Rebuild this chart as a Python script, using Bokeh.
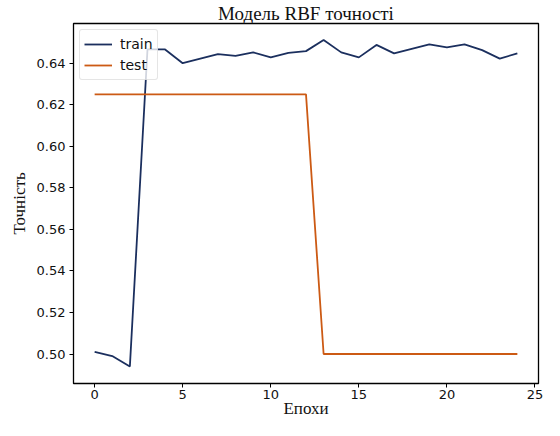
from bokeh.plotting import figure
from bokeh.models import FixedTicker, PrintfTickFormatter, Range1d, Legend, LegendItem
from bokeh.embed import file_html
from bokeh.resources import INLINE

epochs = list(range(25))
train = [0.501, 0.499, 0.494, 0.6466, 0.6466, 0.640, 0.6422, 0.6444, 0.6435, 0.6452,
         0.6428, 0.645, 0.6458, 0.6512, 0.6452, 0.6428, 0.6488, 0.6447, 0.6469, 0.6491,
         0.6476, 0.6491, 0.6463, 0.6422, 0.6447]
test = [0.625] * 13 + [0.500] * 12
x_ticks = [0, 5, 10, 15, 20, 25]
y_ticks = [0.50, 0.52, 0.54, 0.56, 0.58, 0.60, 0.62, 0.64]

p = figure(width=544, height=420, output_backend="svg", toolbar_location=None,
           x_range=Range1d(-1.2, 25.2), y_range=Range1d(0.4858, 0.6591),
           min_border_left=73, min_border_right=6, min_border_bottom=36, min_border_top=0)
p.title.text = "Модель RBF точності"
p.title.text_font = "Liberation Serif"
p.title.text_font_size = "19px"
p.title.text_font_style = "normal"
p.title.text_color = "#111111"
p.title.align = "center"
p.title.standoff = 0
p.title.offset = 0

p.xgrid.visible = False
p.ygrid.visible = False
p.outline_line_color = "black"
p.outline_line_width = 1.3
p.background_fill_color = "white"

r1 = p.line(epochs, train, line_color="#1b2f5e", line_width=1.8)
r2 = p.line(epochs, test, line_color="#cc5a14", line_width=1.8)

for ax in (p.xaxis, p.yaxis):
    ax.axis_line_color = "black"
    ax.major_tick_line_color = "black"
    ax.major_tick_out = 4
    ax.major_tick_in = 0
    ax.minor_tick_out = 0
    ax.minor_tick_in = 0
    ax.major_label_text_font = "DejaVu Sans"
    ax.major_label_text_font_size = "13px"
    ax.major_label_text_color = "#111111"
    ax.axis_label_text_font = "Liberation Serif"
    ax.axis_label_text_font_size = "17px"
    ax.axis_label_text_font_style = "normal"
    ax.axis_label_text_color = "#111111"

p.xaxis.ticker = FixedTicker(ticks=x_ticks)
p.yaxis.ticker = FixedTicker(ticks=y_ticks)
p.yaxis.formatter = PrintfTickFormatter(format="%.2f")
p.xaxis.axis_label = "Епохи"
p.yaxis.axis_label = "Точність"
p.xaxis.major_label_standoff = 2
p.yaxis.major_label_standoff = 4
p.xaxis.axis_label_standoff = -3
p.yaxis.axis_label_standoff = 5

legend = Legend(items=[LegendItem(label="train", renderers=[r1]),
                       LegendItem(label="test", renderers=[r2])],
                location="top_left")
legend.margin = 6
legend.padding = 4
legend.spacing = 1
legend.glyph_width = 28
legend.label_standoff = 8
legend.label_text_font = "DejaVu Sans"
legend.label_text_font_size = "14px"
legend.label_text_color = "#111111"
legend.border_line_color = "#cccccc"
legend.background_fill_alpha = 0.8
legend.border_radius = 3
p.add_layout(legend)

open("out.html", "w").write(file_html(p, INLINE))
